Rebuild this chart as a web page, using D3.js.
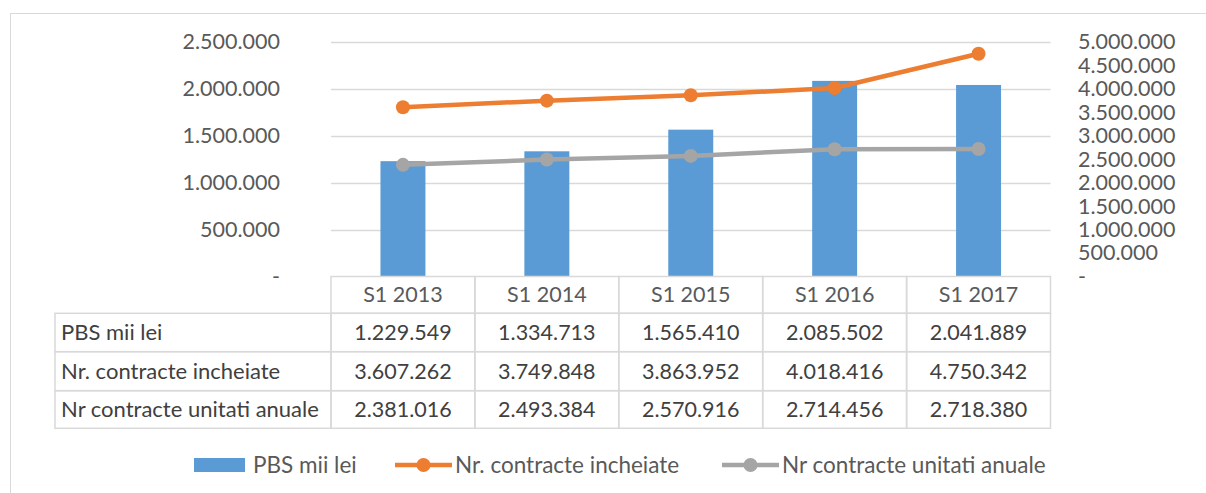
<!DOCTYPE html>
<html>
<head>
<meta charset="utf-8">
<script src="https://cdn.jsdelivr.net/npm/d3@7"></script>
<style>
  body { margin: 0; background: #fff; }
  svg text { font-family: Lato, "Open Sans", sans-serif; }
</style>
</head>
<body>
<div id="chart"></div>
<script>
// Data
const categories = ["S1 2013", "S1 2014", "S1 2015", "S1 2016", "S1 2017"];
const pbs = [1229549, 1334713, 1565410, 2085502, 2041889];
const contracte = [3607262, 3749848, 3863952, 4018416, 4750342];
const unitati = [2381016, 2493384, 2570916, 2714456, 2718380];
const seriesNames = ["PBS mii lei", "Nr. contracte incheiate", "Nr contracte unitati anuale"];
const leftTicks = [0, 500000, 1000000, 1500000, 2000000, 2500000];
const rightTicks = [0, 500000, 1000000, 1500000, 2000000, 2500000, 3000000, 3500000, 4000000, 4500000, 5000000];

const width = 1206, height = 493;
const plot = { left: 331, right: 1050.5, top: 42, bottom: 276.5 };
const colors = { bar: "#5B9BD5", orange: "#ED7D31", gray: "#A5A5A5", grid: "#D9D9D9", text: "#595959" };
const fontSize = 21.5;

const ro = d3.formatLocale({ decimal: ",", thousands: ".", grouping: [3], currency: ["", ""] });
const fmt = v => v === 0 ? "-" : ro.format(",")(v);

const svg = d3.select("#chart")
    .append("svg")
    .attr("width", width)
    .attr("height", height);

// outer frame
svg.append("rect")
    .attr("x", 10.5).attr("y", 13.5)
    .attr("width", 1220).attr("height", 500)
    .attr("fill", "none")
    .attr("stroke", colors.grid);

const x = d3.scaleBand()
    .domain(categories)
    .range([plot.left, plot.right])
    .padding(0);

const yLeft = d3.scaleLinear()
    .domain([0, 2500000])
    .range([plot.bottom, plot.top]);

const yRight = d3.scaleLinear()
    .domain([0, 5000000])
    .range([plot.bottom, plot.top]);

// gridlines
svg.append("g")
    .selectAll("line")
    .data(leftTicks.slice(1))
    .enter().append("line")
    .attr("x1", plot.left).attr("x2", plot.right)
    .attr("y1", d => Math.round(yLeft(d)) + 0.5)
    .attr("y2", d => Math.round(yLeft(d)) + 0.5)
    .attr("stroke", colors.grid)
    .attr("stroke-width", 1.3);

// left axis
const leftAxis = svg.append("g")
    .attr("transform", `translate(280,0)`)
    .call(d3.axisLeft(yLeft).tickValues(leftTicks).tickFormat(fmt).tickSize(0).tickPadding(0));
leftAxis.select(".domain").remove();
leftAxis.selectAll("text")
    .attr("fill", colors.text)
    .attr("font-size", fontSize)
    .attr("font-family", "Lato");

// right axis
const rightAxis = svg.append("g")
    .attr("transform", `translate(1078,0)`)
    .call(d3.axisRight(yRight).tickValues(rightTicks).tickFormat(fmt).tickSize(0).tickPadding(0));
rightAxis.select(".domain").remove();
rightAxis.selectAll("text")
    .attr("fill", colors.text)
    .attr("font-size", fontSize)
    .attr("font-family", "Lato");

// bars
const barW = x.bandwidth() * 0.3125;
svg.append("g")
    .selectAll("rect")
    .data(pbs)
    .enter().append("rect")
    .attr("x", (d, i) => x(categories[i]) + (x.bandwidth() - barW) / 2)
    .attr("y", d => yLeft(d))
    .attr("width", barW)
    .attr("height", d => yLeft(0) - yLeft(d))
    .attr("fill", colors.bar);

// lines
function drawLine(values, color) {
    const cx = (d, i) => x(categories[i]) + x.bandwidth() / 2;
    svg.append("path")
        .datum(values)
        .attr("fill", "none")
        .attr("stroke", color)
        .attr("stroke-width", 4.5)
        .attr("stroke-linejoin", "round")
        .attr("d", d3.line().x(cx).y(d => yRight(d)));
    svg.append("g")
        .selectAll("circle")
        .data(values)
        .enter().append("circle")
        .attr("cx", cx)
        .attr("cy", d => yRight(d))
        .attr("r", 7)
        .attr("fill", color);
}
drawLine(unitati, colors.gray);
drawLine(contracte, colors.orange);

// data table
const table = svg.append("g");
const rowTop = [313.3, 351.7, 390.7, 428.3];
const headTop = plot.bottom;
const tableLeft = 55;
const rows = [pbs, contracte, unitati];

// header cells
table.selectAll(".hcell")
    .data(categories)
    .enter().append("rect")
    .attr("x", d => x(d)).attr("y", headTop)
    .attr("width", x.bandwidth()).attr("height", rowTop[0] - headTop)
    .attr("fill", "none").attr("stroke", colors.grid).attr("stroke-width", 1.5);

table.selectAll(".htext")
    .data(categories)
    .enter().append("text")
    .attr("x", d => x(d) + x.bandwidth() / 2)
    .attr("y", (headTop + rowTop[0]) / 2)
    .attr("dy", "0.35em")
    .attr("text-anchor", "middle")
    .attr("font-size", fontSize)
    .attr("fill", colors.text)
    .text(d => d);

rows.forEach((vals, r) => {
    const y0 = rowTop[r], y1 = rowTop[r + 1];
    table.append("rect")
        .attr("x", tableLeft).attr("y", y0)
        .attr("width", plot.left - tableLeft).attr("height", y1 - y0)
        .attr("fill", "none").attr("stroke", colors.grid).attr("stroke-width", 1.5);
    table.append("text")
        .attr("x", 61)
        .attr("y", (y0 + y1) / 2)
        .attr("dy", "0.35em")
        .attr("font-size", 22)
        .attr("fill", "#404040")
        .text(seriesNames[r]);
    vals.forEach((v, i) => {
        table.append("rect")
            .attr("x", x(categories[i])).attr("y", y0)
            .attr("width", x.bandwidth()).attr("height", y1 - y0)
            .attr("fill", "none").attr("stroke", colors.grid).attr("stroke-width", 1.5);
        table.append("text")
            .attr("x", x(categories[i]) + x.bandwidth() / 2)
            .attr("y", (y0 + y1) / 2)
            .attr("dy", "0.35em")
            .attr("text-anchor", "middle")
            .attr("font-size", fontSize)
            .attr("fill", "#404040")
            .text(fmt(v));
    });
});

// legend
const legendY = 465;
const legend = svg.append("g").attr("font-size", 22.5).attr("fill", colors.text);
legend.append("rect")
    .attr("x", 194).attr("y", legendY - 7)
    .attr("width", 51).attr("height", 14)
    .attr("fill", colors.bar);
legend.append("text").attr("x", 253).attr("y", legendY).attr("dy", "0.35em").attr("fill", colors.text).text(seriesNames[0]);

[[395, colors.orange, seriesNames[1]], [722, colors.gray, seriesNames[2]]].forEach(([lx, c, name]) => {
    legend.append("line")
        .attr("x1", lx).attr("x2", lx + 57)
        .attr("y1", legendY).attr("y2", legendY)
        .attr("stroke", c).attr("stroke-width", 4.5);
    legend.append("circle")
        .attr("cx", lx + 28.5).attr("cy", legendY).attr("r", 7).attr("fill", c);
    legend.append("text")
        .attr("x", lx + 60).attr("y", legendY).attr("dy", "0.35em")
        .attr("fill", colors.text).text(name);
});
</script>
</body>
</html>
